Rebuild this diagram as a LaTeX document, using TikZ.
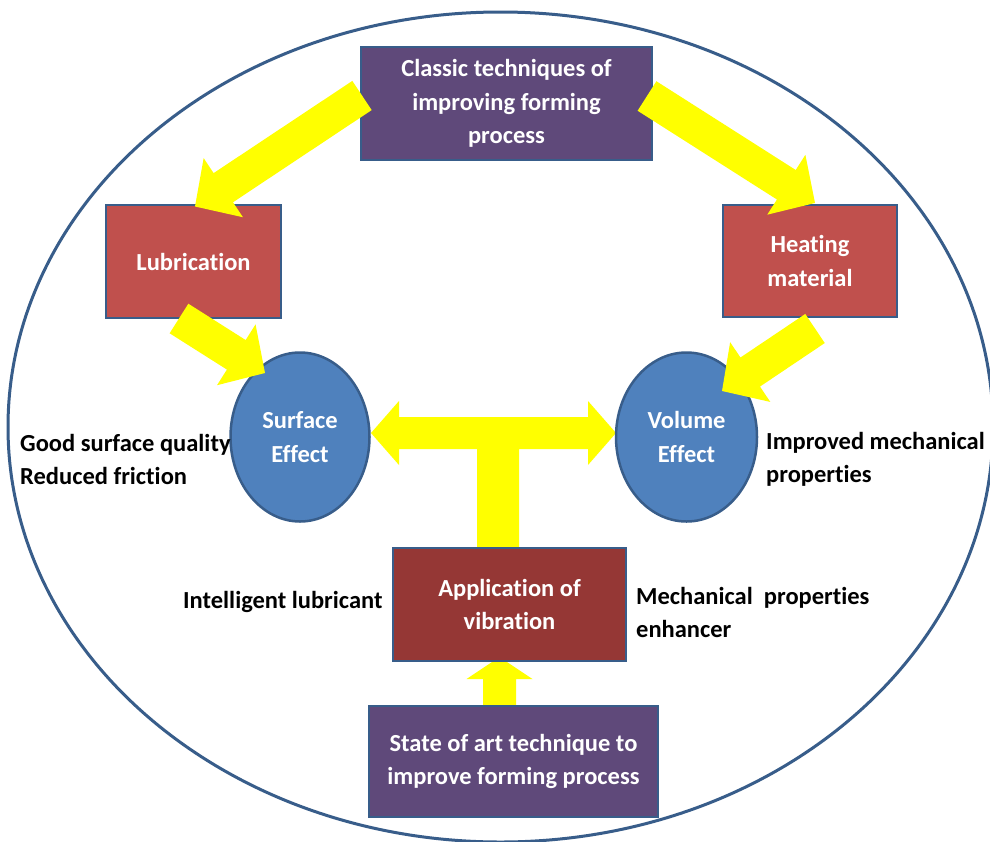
\documentclass[tikz,border=0pt]{standalone}
\usepackage{fontspec}
\setmainfont{Carlito}[Ligatures=NoCommon]
\usetikzlibrary{shapes.geometric,calc}
\definecolor{bordblue}{HTML}{385D8A}
\definecolor{purp}{HTML}{5F497A}
\definecolor{lred}{HTML}{C0504D}
\definecolor{dred}{HTML}{953735}
\definecolor{eblue}{HTML}{4F81BD}
\definecolor{yel}{HTML}{FFFF00}
% #1 start, #2 tip, #3 half shaft width, #4 half head width, #5 head length
\newcommand{\fatarrow}[5]{%
  \path ($(#2)!#5!(#1)$) coordinate (fah);
  \fill[yel] ($(#1)!#3!90:(#2)$) -- ($(fah)!#3!90:(#2)$) -- ($(fah)!#4!90:(#2)$) -- (#2)
     -- ($(fah)!#4!-90:(#2)$) -- ($(fah)!#3!-90:(#2)$) -- ($(#1)!#3!-90:(#2)$) -- cycle;}
\tikzset{
  box/.style={draw=bordblue, line width=2.5pt, text=white, align=center, inner sep=0pt},
  oval/.style={ellipse, draw=bordblue, line width=2.5pt, fill=eblue, text=white, align=center, inner sep=0pt},
  note/.style={anchor=west, align=left, inner sep=0pt, text=black}
}
\begin{document}
\begin{tikzpicture}[x=1pt,y=-1pt,font=\fontsize{24.5}{33.5}\selectfont\bfseries]
\useasboundingbox[fill=white] (0,0) rectangle (990,841);
% outer ellipse
\node[ellipse, draw=bordblue, line width=3pt, minimum width=985pt, minimum height=830pt, inner sep=0pt] (frame) at (500.5,427) {};
% T double arrow and up arrow (behind boxes)
\coordinate (tl) at (371,433);
\coordinate (tr) at (616,433);
\coordinate (sb) at (498,548);
\fill[yel] (tl) -- (399,401) -- (399,417) -- (588,417) -- (588,401) -- (tr) -- (588,465) -- (588,449)
  -- (519,449) -- (519,548) -- (477,548) -- (477,449) -- (399,449) -- (399,465) -- cycle;
\coordinate (ut) at (499.5,708);
\coordinate (uh) at (499.5,657);
\fatarrow{ut}{uh}{16.5pt}{33pt}{22pt}
% boxes
\node[box, fill=purp, minimum width=291pt, minimum height=113pt] (classic) at (506.5,103.5) {Classic techniques of\\improving forming\\process};
\node[box, fill=lred, minimum width=175pt, minimum height=113pt] (lub) at (193.5,261.5) {Lubrication};
\node[box, fill=lred, minimum width=174pt, minimum height=112pt] (heat) at (810,261) {Heating\\material};
\node[box, fill=dred, minimum width=233pt, minimum height=113pt] (appl) at (509.5,604.5) {Application of\\vibration};
\node[box, fill=purp, minimum width=289pt, minimum height=111pt] (state) at (513.5,761.5) {State of art technique to\\improve forming process};
\node[oval, minimum width=139pt, minimum height=169pt] (surf) at (300,437) {Surface\\Effect};
\node[oval, minimum width=141pt, minimum height=169pt] (vol) at (686.5,437) {Volume\\Effect};
% diagonal arrows (on top)
\coordinate (a1) at (362,95.5);  \coordinate (a2) at (195,206.5);
\coordinate (b1) at (647,96);    \coordinate (b2) at (815,203);
\coordinate (c1) at (179,318.5); \coordinate (c2) at (265,373);
\coordinate (d1) at (815,328.5); \coordinate (d2) at (722,391);
\fatarrow{a1}{a2}{17.5pt}{35.5pt}{34pt}
\fatarrow{b1}{b2}{17.5pt}{35.5pt}{34pt}
\fatarrow{c1}{c2}{17.5pt}{36pt}{34pt}
\fatarrow{d1}{d2}{17.5pt}{36pt}{34pt}
% side notes
\node[note] (n1) at (20,459.5) {Good surface quality\\Reduced friction};
\node[note] (n2) at (766,459.5) {Improved mechanical\\properties};
\node[note] (n3) at (183,602) {Intelligent lubricant};
\node[note] (n4) at (636,612.5) {Mechanical\ \ properties\\enhancer};
\end{tikzpicture}
\end{document}
